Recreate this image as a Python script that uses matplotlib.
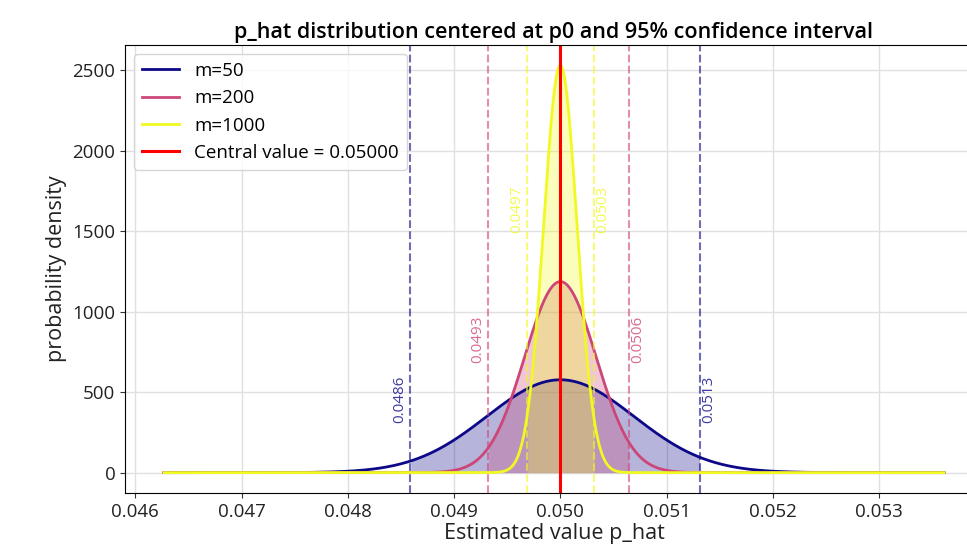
import matplotlib.pyplot as plt
import numpy as np

plt.rcParams['font.family'] = ['Open Sans', 'DejaVu Sans']

# values
p0 = 0.05
m_values = [50, 200, 1000]
peak_density = [577, 1187, 2531]            # height of each curve at p0
ci_low = [0.048586, 0.04932, 0.04969]        # 95% bounds (dashed lines)
ci_high = [0.051314, 0.050645, 0.05032]
ci_low_txt = ['0.0486', '0.0493', '0.0497']
ci_high_txt = ['0.0513', '0.0506', '0.0503']
label_y = [310, 682, 1489]                   # where the bound labels sit
x_start, x_end = 0.04627, 0.05361
colors = ['#0d0887', '#cc4778', '#f0f921']   # plasma 0 / 0.5 / 1

fig = plt.figure(figsize=(9.67, 5.51), dpi=100)
ax = fig.add_axes([125/967, 58/551, 858/967, 448/551])

x = np.linspace(x_start, x_end, 1000)
for m, pk, lo, hi, tlo, thi, ty, c in zip(m_values, peak_density, ci_low, ci_high,
                                          ci_low_txt, ci_high_txt, label_y, colors):
    sd = 1 / (pk * np.sqrt(2 * np.pi))
    y = pk * np.exp(-0.5 * ((x - p0) / sd) ** 2)
    ax.plot(x, y, color=c, lw=2, label='m=%d' % m)
    inside = (x >= lo) & (x <= hi)
    ax.fill_between(x[inside], y[inside], color=c, alpha=0.3, lw=0)
    ax.axvline(lo, color=c, ls='--', lw=1.5, alpha=0.6)
    ax.axvline(hi, color=c, ls='--', lw=1.5, alpha=0.6)
    ax.text(lo - 0.00003, ty, tlo, rotation=90, color=c, alpha=0.8,
            ha='right', va='bottom', fontsize=11)
    ax.text(hi + 0.00001, ty, thi, rotation=90, color=c, alpha=0.8,
            ha='left', va='bottom', fontsize=11)

ax.axvline(p0, color='red', lw=2.2, label='Central value = %.5f' % p0)

ax.set_xticks([0.046, 0.047, 0.048, 0.049, 0.050, 0.051, 0.052, 0.053])
ax.set_xticklabels(['0.046', '0.047', '0.048', '0.049', '0.050', '0.051', '0.052', '0.053'])
ax.set_yticks([0, 500, 1000, 1500, 2000, 2500])
ax.tick_params(labelsize=13.5, colors='#333333', labelcolor='#222222')
ax.grid(True, color='#e0e0e0', lw=1)
ax.set_axisbelow(True)

ax.set_xlabel('Estimated value p_hat', fontsize=15.5, labelpad=2, color='#222222')
ax.set_ylabel('probability density', fontsize=15.5, labelpad=4, color='#222222')
ax.set_title('p_hat distribution centered at p0 and 95% confidence interval',
             fontsize=15.5, fontweight='semibold', pad=5)
ax.legend(loc='upper left', fontsize=13.5)

fig.savefig('out.png', dpi=100)
